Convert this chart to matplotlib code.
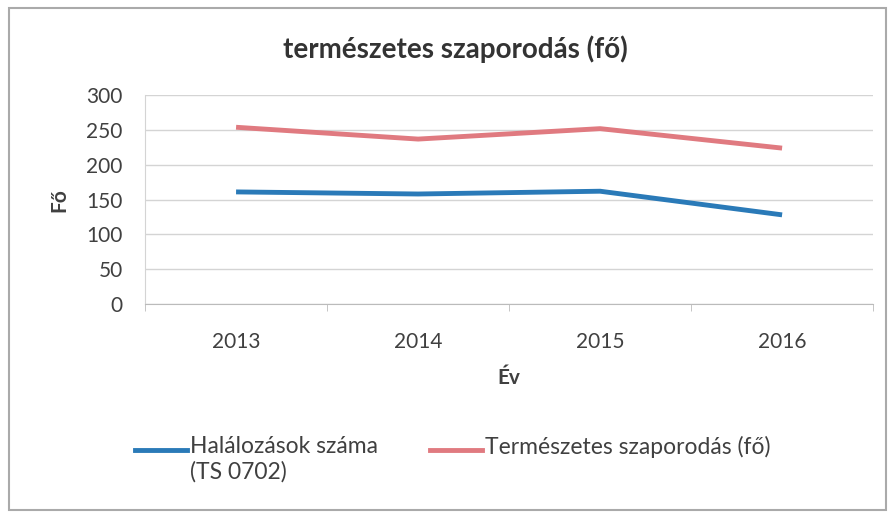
import matplotlib.pyplot as plt
from matplotlib.lines import Line2D
import numpy as np

# data
years = ["2013", "2014", "2015", "2016"]
halalozasok = [161, 158, 162, 128]
szaporodas = [254, 237, 252, 224]
labels = ["Halálozások száma\n(TS 0702)", "Természetes szaporodás (fő)"]
colors = ["#2a7ab8", "#e07a80"]

plt.rcParams['font.family'] = ['Lato', 'DejaVu Sans']

fig = plt.figure(figsize=(8.9, 5.15), dpi=100)
ax = fig.add_axes([0.163, 0.41, 0.818, 0.405])

x = np.arange(len(years))
ax.plot(x, halalozasok, color=colors[0], lw=3.5, solid_capstyle="butt")
ax.plot(x, szaporodas, color=colors[1], lw=3.5, solid_capstyle="butt")

ax.set_xlim(-0.5, len(years) - 0.5)
ax.set_ylim(0, 300)
ax.set_yticks(range(0, 301, 50))
ax.set_xticks(x)
ax.set_xticklabels(years)
ax.set_xticks(np.arange(-0.5, len(years)), minor=True)
ax.tick_params(axis="x", which="major", length=0, pad=20, labelsize=15, colors="#404040")
ax.tick_params(axis="x", which="minor", length=5, color="#bbbbbb")
ax.tick_params(axis="y", length=0, pad=16, labelsize=15, colors="#404040")

ax.grid(axis="y", color="#d4d4d4", lw=1)
for s in ["top", "right"]:
    ax.spines[s].set_visible(False)
ax.spines["left"].set_color("#d4d4d4")
ax.spines["bottom"].set_color("#bbbbbb")

ax.set_ylabel("Fő", fontsize=15, fontweight="bold", color="#404040", labelpad=12)
ax.set_xlabel("Év", fontsize=15, fontweight="bold", color="#404040", labelpad=12)
fig.text(0.512, 0.905, "természetes szaporodás (fő)", ha="center", va="center",
         fontsize=20, fontweight="bold", color="#333333")

# legend drawn by hand so the key sits on the first text line
leg_y = 1 - 450 / 515
leg_x = [135 / 890, 430 / 890]
for lx, lab, col in zip(leg_x, labels, colors):
    fig.add_artist(Line2D([lx, lx + 52 / 890], [leg_y, leg_y], color=col, lw=3.5,
                          transform=fig.transFigure))
    fig.text(lx + 55 / 890, leg_y + 0.027, lab, ha="left", va="top", fontsize=16.5,
             color="#404040", linespacing=1.25)

# outer frame
fig.add_artist(plt.Rectangle((0.01, 0.01), 0.985, 0.975, transform=fig.transFigure,
                             fill=False, edgecolor="#aaaaaa", lw=1.5))

fig.savefig("out.png", dpi=100)
